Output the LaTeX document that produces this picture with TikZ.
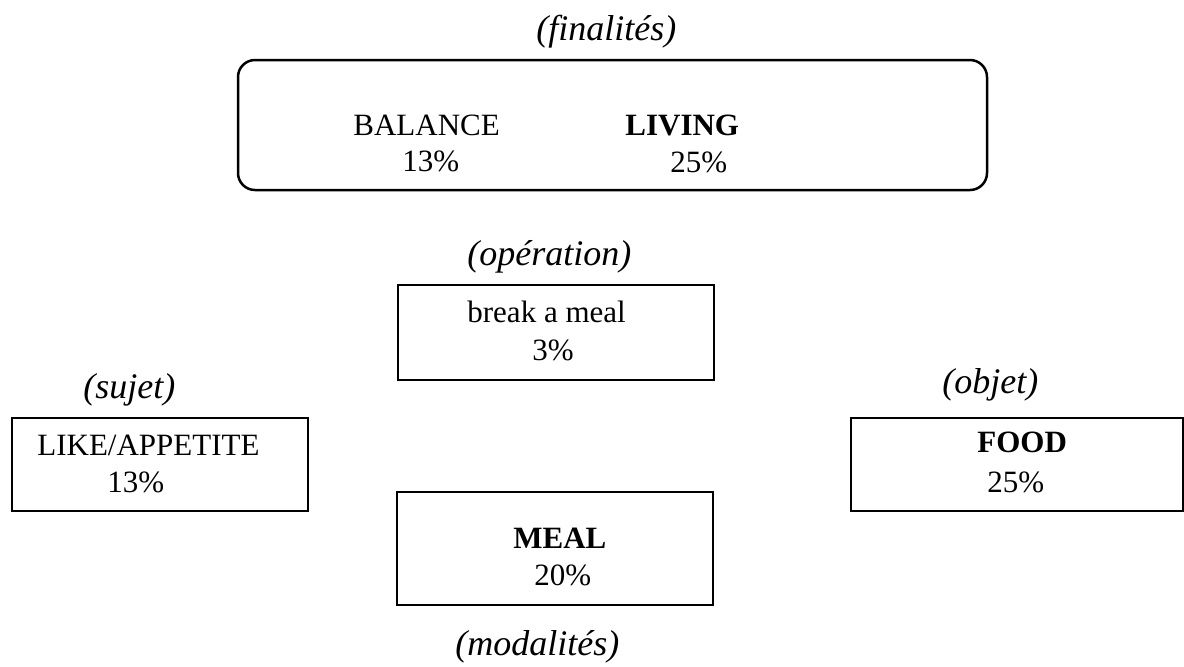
\documentclass[tikz,border=0pt]{standalone}
\usepackage{fontspec}
\setmainfont{Liberation Serif}

\newlength{\du}
\setlength{\du}{0.5pt}

\tikzset{
  actbox/.style={draw=black, line width=2.5\du, inner sep=0pt, fill=white},
  txt/.style={anchor=base west, inner sep=0pt, font=\fontsize{15.5}{18}\selectfont},
  role/.style={anchor=base west, inner sep=0pt, font=\fontsize{18}{21}\selectfont\itshape},
}

\begin{document}
\begin{tikzpicture}
\pgftransformxscale{1.000000}
\pgftransformyscale{-1.000000}
\useasboundingbox (0\du,0\du) rectangle (1184\du,666\du);
% finalites
\node[actbox, rounded corners=17\du, minimum width=749\du, minimum height=130\du] (finbox) at (612.5\du,125\du) {};
\node[role] (finlab) at (536\du,40\du) {(finalités)};
\node[txt] (balance) at (353\du,135\du) {BALANCE};
\node[txt] (balpct) at (402\du,171\du) {13\%};
\node[txt] (living) at (625\du,135\du) {\textbf{LIVING}};
\node[txt] (livpct) at (670\du,172\du) {25\%};
% operation
\node[role] (oplab) at (467\du,265\du) {(opération)};
\node[actbox, minimum width=316\du, minimum height=95\du] (opbox) at (556\du,332.5\du) {};
\node[txt] (break) at (467\du,322\du) {break a meal};
\node[txt] (oppct) at (532\du,360\du) {3\%};
% sujet
\node[role] (sujlab) at (83\du,398\du) {(sujet)};
\node[actbox, minimum width=296\du, minimum height=93\du] (sujbox) at (160\du,464.5\du) {};
\node[txt] (appetite) at (37\du,455\du) {LIKE/APPETITE};
\node[txt] (sujpct) at (107\du,492\du) {13\%};
% objet
\node[role] (objlab) at (942\du,393\du) {(objet)};
\node[actbox, minimum width=332\du, minimum height=93\du] (objbox) at (1017\du,464.5\du) {};
\node[txt] (food) at (977\du,452\du) {\textbf{FOOD}};
\node[txt] (objpct) at (987\du,492\du) {25\%};
% modalites
\node[actbox, minimum width=316\du, minimum height=113\du] (modbox) at (555\du,548.5\du) {};
\node[txt] (meal) at (513\du,548\du) {\textbf{MEAL}};
\node[txt] (modpct) at (534\du,585\du) {20\%};
\node[role] (modlab) at (455\du,655\du) {(modalités)};
\end{tikzpicture}
\end{document}
